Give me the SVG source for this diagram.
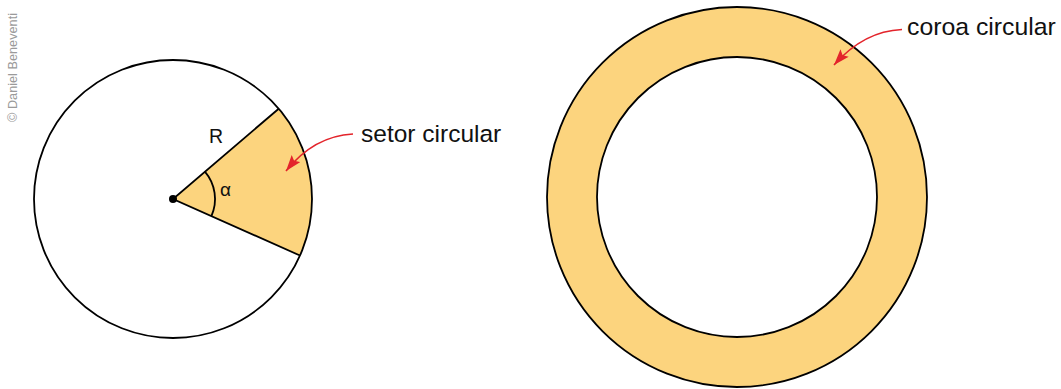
<svg xmlns="http://www.w3.org/2000/svg" width="1061" height="389" viewBox="0 0 1061 389">
<style>
.ln{fill:none;stroke:#000;stroke-width:1.8}
.fill{fill:#fcd47e}
.arr{fill:none;stroke:#e3242b;stroke-width:1.6}
.lbl{font-family:"Liberation Sans",Arial,sans-serif;fill:#111}
.cp{font-family:"Liberation Sans",Arial,sans-serif;fill:#9a9a9a;font-size:12.5px}
</style>
<defs>
<marker id="ah" markerUnits="userSpaceOnUse" markerWidth="17" markerHeight="12" refX="16" refY="6" orient="auto" viewBox="0 0 17 12">
<path d="M0,0.5 L16,6 L0,11.5 L3,6 z" fill="#e3242b"/>
</marker>
</defs>
<text class="cp" transform="translate(17,122) rotate(-90)" textLength="109" lengthAdjust="spacingAndGlyphs">© Daniel Beneventi</text>
<g id="sector-figure">
<circle cx="173" cy="199" r="139" fill="#fff" stroke="none"/>
<path class="fill" d="M173,199 L278.7,108.7 A139,139 0 0 1 300,255.5 Z"/>
<circle class="ln" cx="173" cy="199" r="139"/>
<path class="ln" d="M278.7,108.7 L173,199 L300,255.5"/>
<path class="ln" d="M204.9,171.7 A42,42 0 0 1 211.4,216.1"/>
<circle cx="173" cy="199" r="4" fill="#000"/>
<text class="lbl" x="209" y="143" font-size="19.5">R</text>
<text class="lbl" x="220" y="196" font-size="19">α</text>
</g>
<g id="ring-figure">
<circle cx="737" cy="197" r="190" class="fill" stroke="#000" stroke-width="1.8"/>
<circle cx="737" cy="197" r="140" fill="#fff" stroke="#000" stroke-width="1.8"/>
</g>
<g id="connectors">
<path class="arr" d="M353,134 Q314,136 286,171" marker-end="url(#ah)"/>
<path class="arr" d="M902,29.5 Q864,31 834,65" marker-end="url(#ah)"/>
</g>
<g id="label-setor"><text class="lbl" x="361" y="142" font-size="24.5">setor circular</text></g>
<g id="label-coroa"><text class="lbl" x="907" y="35" font-size="24.8">coroa circular</text></g>
</svg>
